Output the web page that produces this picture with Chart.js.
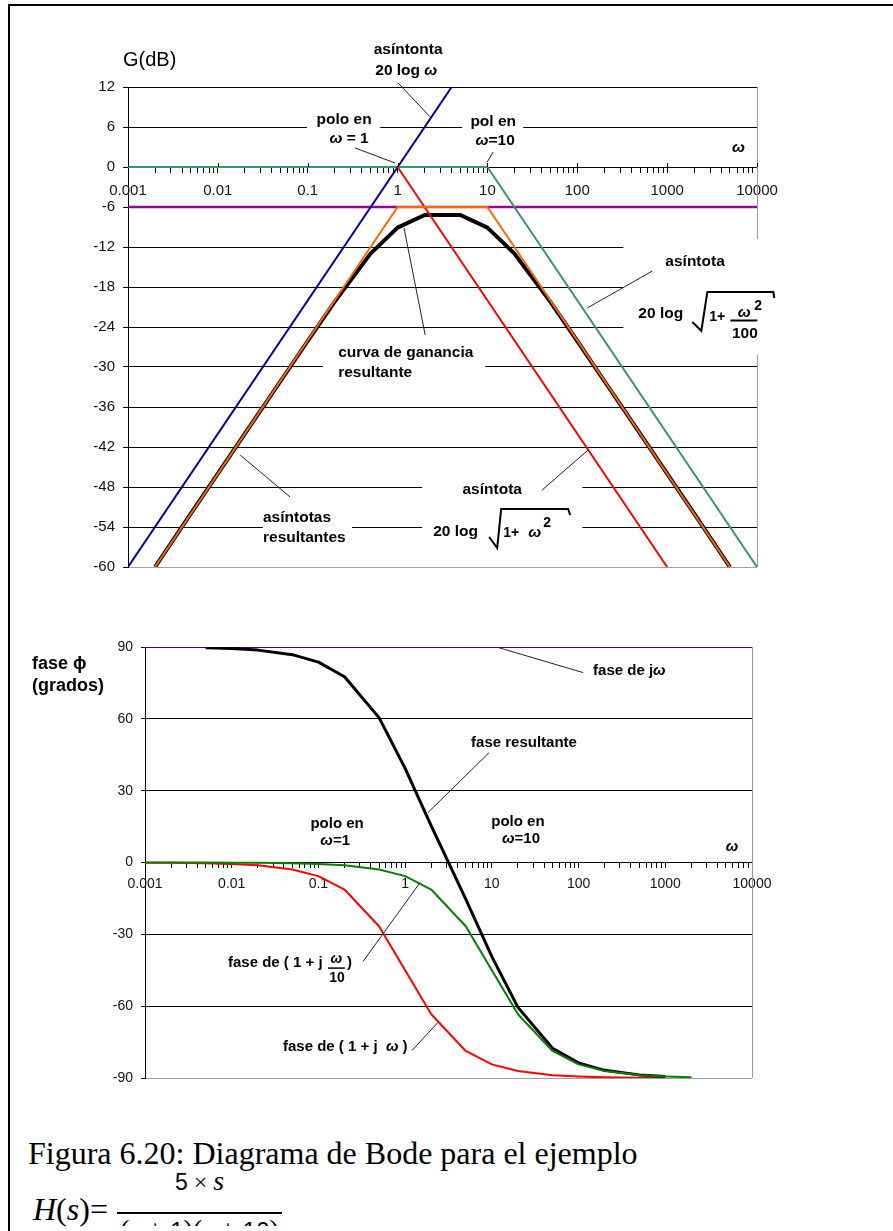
<!DOCTYPE html>
<html><head><meta charset="utf-8">
<script src="https://cdn.jsdelivr.net/npm/chart.js@4.4.1/dist/chart.umd.min.js"></script>
<style>
html,body{margin:0;padding:0;background:#fff;}
body{width:893px;height:1231px;position:relative;overflow:hidden;}
canvas{position:absolute;left:0;}
.abs{position:absolute;white-space:nowrap;color:#000;}
.sans{font-family:'Liberation Sans',Arial,sans-serif;}
</style></head><body>
<div class="abs" style="left:8px;top:4px;width:885px;height:2px;background:#000"></div>
<div class="abs" style="left:8px;top:4px;width:2px;height:1227px;background:#000"></div>
<canvas id="gain" width="893" height="600" style="top:0"></canvas>
<canvas id="phase" width="893" height="520" style="top:600px"></canvas>
<div class="abs" style="left:123px;top:49px;font:20px/20px 'Liberation Sans',Arial,sans-serif;">G(dB)</div>
<div class="abs" style="left:32px;top:652px;font:bold 18px/22px 'Liberation Sans',Arial,'DejaVu Sans',sans-serif;">fase ϕ<br>(grados)</div>
<div class="abs" style="left:28px;top:1137px;font:32px/32px 'Liberation Serif','Times New Roman',serif;">Figura 6.20: Diagrama de Bode para el ejemplo</div>
<div class="abs" style="left:33px;top:1193px;font:32px/32px 'Liberation Serif','Times New Roman',serif;"><i>H</i>(<i>s</i>)=</div>
<div class="abs" style="left:117px;width:165px;top:1167px;text-align:center;font:28px/28px 'Liberation Serif','Times New Roman',serif;"><span class="sans" style="font-size:23px">5</span><span style="font-size:24px"> × </span><i>s</i></div>
<div class="abs" style="left:117px;top:1212px;width:165px;height:2px;background:#000"></div>
<div class="abs" style="left:117px;top:1216px;width:165px;height:10px;overflow:hidden;">
<div style="position:absolute;left:0;top:0;width:165px;text-align:center;font:28px/28px 'Liberation Serif','Times New Roman',serif;">(<i>s</i> + <span class="sans" style="font-size:24px">1</span>)(<i>s</i> + <span class="sans" style="font-size:24px">10</span>)</div>
</div>
<script>
// ---------- DATA ----------
const xMajor = [0.001, 0.01, 0.1, 1, 10, 100, 1000, 10000];
const xMajorLabels = ['0.001', '0.01', '0.1', '1', '10', '100', '1000', '10000'];

// Gain plot (dB)
const gainOmega  = [0.002, 0.005, 0.01, 0.02, 0.05, 0.1, 0.2, 0.5, 1, 2, 5, 10, 20, 50, 100, 200, 500, 1000, 2000, 5000];
const gainResult = [-60.0, -52.0, -46.0, -40.0, -32.1, -26.1, -20.2, -13.0, -9.1, -7.2, -7.2, -9.1, -13.0, -20.2, -26.1, -32.1, -40.0, -46.0, -52.0, -60.0];
const asymJwOmega = [0.001, 4.0];        const asymJwGain = [-60, 12];
const asymP1Omega = [1, 1000];           const asymP1Gain = [0, -60];
const asymP10Omega = [0.001, 10, 10000]; const asymP10Gain = [0, 0, -60];
const constOmega = [0.001, 10000];       const constGain = [-6, -6];
const resAsymOmega = [0.002, 1, 10, 5000]; const resAsymGain = [-60, -6, -6, -60];

// Phase plot (degrees)
const phaseOmega  = [0.001, 0.002, 0.005, 0.01, 0.02, 0.05, 0.1, 0.2, 0.5, 1, 2, 5, 10, 20, 50, 100, 200, 500, 1000, 2000];
const phaseTotal  = [null, null, 89.7, 89.4, 88.7, 86.8, 83.7, 77.6, 60.5, 39.3, 15.3, -15.3, -39.3, -60.5, -77.6, -83.7, -86.8, -88.7, -89.4, null];
const phasePole1  = [-0.1, -0.1, -0.3, -0.6, -1.1, -2.9, -5.7, -11.3, -26.6, -45.0, -63.4, -78.7, -84.3, -87.1, -88.9, -89.4, -89.7, -89.9, -89.9, null];
const phasePole10 = [0, 0, 0, -0.1, -0.1, -0.3, -0.6, -1.1, -2.9, -5.7, -11.3, -26.6, -45.0, -63.4, -78.7, -84.3, -87.1, -88.9, -89.4, -89.7];
const phaseJwOmega = [0.001, 10000]; const phaseJw = [90, 90];

// ---------- helpers ----------
const FONT = "'Liberation Sans', Arial, 'DejaVu Sans', sans-serif";
const xTickValues = [];
xMajor.forEach((d, i) => { for (let k = 1; k <= 9; k++) { if (i === xMajor.length - 1 && k > 1) break; xTickValues.push(+(k * d).toPrecision(6)); } });

function pts(xs, ys) { return xs.map((x, i) => ({x, y: ys[i]})).filter(p => p.y !== null); }
function ds(data, color, width, order) {
  return {data, borderColor: color, borderWidth: width, order, pointRadius: 0, fill: false, tension: 0, borderJoinStyle: 'round'};
}
function B(t, s) { return {t, f: `bold ${s}px ${FONT}`}; }
function BI(t, s) { return {t, f: `italic bold ${s}px ${FONT}`}; }
function drawSegs(ctx, segs, x, y, align) {
  let w = 0;
  for (const s of segs) { ctx.font = s.f; w += ctx.measureText(s.t).width; }
  let cx = align === 'center' ? x - w / 2 : (align === 'right' ? x - w : x);
  ctx.textBaseline = 'middle'; ctx.textAlign = 'left';
  for (const s of segs) { ctx.font = s.f; ctx.fillText(s.t, cx, y); cx += ctx.measureText(s.t).width; }
}

const annotPlugin = {
  id: 'annot',
  beforeDatasetsDraw(chart, args, o) {
    const {ctx, chartArea: ca} = chart;
    const x = chart.scales.x, y = chart.scales.y;
    ctx.save();
    ctx.strokeStyle = '#9a9a9a'; ctx.lineWidth = 1;
    const rx = Math.round(x.getPixelForValue(10000)) + 0.5;
    ctx.beginPath(); ctx.moveTo(rx, ca.top); ctx.lineTo(rx, ca.bottom); ctx.stroke();
    ctx.fillStyle = '#fff';
    for (const b of (o.boxes || [])) {
      const x0 = x.getPixelForValue(b[0]), x1 = x.getPixelForValue(b[1]);
      const y0 = y.getPixelForValue(b[2]), y1 = y.getPixelForValue(b[3]);
      ctx.fillRect(Math.min(x0, x1), Math.min(y0, y1), Math.abs(x1 - x0), Math.abs(y1 - y0));
    }
    ctx.restore();
  },
  afterDatasetsDraw(chart, args, o) {
    const {ctx} = chart;
    const x = chart.scales.x, y = chart.scales.y;
    ctx.save();
    if (o.majorUp) {
      const ay = Math.round(y.getPixelForValue(0));
      ctx.strokeStyle = '#000'; ctx.lineWidth = 1;
      for (const m of xMajor) {
        const px = Math.round(x.getPixelForValue(m)) + 0.5;
        ctx.beginPath(); ctx.moveTo(px, ay - o.majorUp); ctx.lineTo(px, ay); ctx.stroke();
      }
    }
    ctx.strokeStyle = '#222'; ctx.lineWidth = 1;
    for (const l of (o.leaders || [])) {
      ctx.beginPath();
      ctx.moveTo(x.getPixelForValue(l[0]), y.getPixelForValue(l[1]));
      ctx.lineTo(x.getPixelForValue(l[2]), y.getPixelForValue(l[3]));
      ctx.stroke();
    }
    ctx.fillStyle = '#000';
    for (const t of (o.texts || [])) {
      drawSegs(ctx, t.segs, x.getPixelForValue(t.w), y.getPixelForValue(t.v), t.align);
    }
    for (const f of (o.formulas || [])) {
      const ax = x.getPixelForValue(f.w), ay = y.getPixelForValue(f.v);
      for (const p of f.parts) {
        if (p.path) {
          ctx.strokeStyle = '#000'; ctx.lineWidth = p.lw || 2; ctx.lineJoin = 'miter';
          ctx.beginPath();
          p.path.forEach((q, i) => { if (i === 0) ctx.moveTo(ax + q[0], ay + q[1]); else ctx.lineTo(ax + q[0], ay + q[1]); });
          ctx.stroke();
        } else {
          drawSegs(ctx, p.segs, ax + p.dx, ay + p.dy, p.align || 'left');
        }
      }
    }
    ctx.restore();
  }
};

function xAxis(fontSize, pad, tl) {
  return {
    type: 'logarithmic', min: 0.001, max: 10000, position: {y: 0},
    afterBuildTicks: s => { s.ticks = xTickValues.map(v => ({value: v})); },
    ticks: {
      autoSkip: false, maxRotation: 0, minRotation: 0, padding: pad, color: '#111',
      font: {family: FONT, size: fontSize},
      callback: (v) => { const i = xMajor.findIndex(m => Math.abs(m - v) / m < 1e-6); return i >= 0 ? xMajorLabels[i] : ''; }
    },
    grid: {drawOnChartArea: false, drawTicks: true, tickLength: tl, color: '#000'},
    border: {display: true, color: '#000', width: 1}
  };
}
function yAxis(min, max, step, fontSize, tl) {
  return {
    type: 'linear', min, max, position: 'left',
    afterFit: s => { s.width = 60; },
    ticks: {stepSize: step, padding: 8, color: '#111', font: {family: FONT, size: fontSize}},
    grid: {color: c => (c.tick && c.tick.value === min) ? '#a0a0a0' : '#000', tickColor: '#000', tickLength: tl, lineWidth: 1},
    border: {display: true, color: '#000', width: 1}
  };
}

// ---------- GAIN CHART ----------
const T = 15.5;
new Chart(document.getElementById('gain'), {
  type: 'line',
  data: {datasets: [
    ds(pts(resAsymOmega, resAsymGain), '#ff6600', 2, 1),
    ds(pts(asymP1Omega, asymP1Gain), '#ff0000', 2, 2),
    ds(pts(asymJwOmega, asymJwGain), '#000099', 2, 3),
    ds(pts(asymP10Omega, asymP10Gain), '#339966', 2, 4),
    ds(pts(gainOmega, gainResult), '#000000', 4, 5),
    ds(pts(constOmega, constGain), '#990099', 2.5, 6)
  ]},
  options: {
    responsive: false, animation: false, devicePixelRatio: 1, events: [],
    layout: {padding: {left: 68, top: 87, right: 136, bottom: 33}},
    plugins: {
      legend: {display: false}, tooltip: {enabled: false},
      annot: {
        majorUp: 4,
        boxes: [
          [0.098, 0.64, 8.4, 5.4], [5.24, 25.1, 8.4, 5.4], [0.148, 9.44, -27, -33],
          [325, 10900, -10.8, -28.2], [0.0318, 0.312, -51, -57.5], [1.88, 114, -46.65, -57.9]
        ],
        leaders: [
          [1.015, 12.6, 2.31, 7.5], [0.337, 2.85, 0.94, 0.6], [11.6, 2.25, 9.95, 0.75],
          [1.18, -9.15, 2.03, -25.2], [684, -15.6, 129, -21.15], [40.7, -48.45, 132, -42.45],
          [0.0637, -49.5, 0.0177, -43.2]
        ],
        texts: [
          {w: 1.31, v: 17.55, align: 'center', segs: [B('asíntonta', T)]},
          {w: 1.25, v: 14.4, align: 'center', segs: [B('20 log ', T), BI('ω', T)]},
          {w: 0.254, v: 7.05, align: 'center', segs: [B('polo en', T)]},
          {w: 0.289, v: 4.2, align: 'center', segs: [BI('ω', T), B(' = 1', T)]},
          {w: 11.6, v: 6.75, align: 'center', segs: [B('pol en', T)]},
          {w: 12.2, v: 3.9, align: 'center', segs: [BI('ω', T), B('=10', T)]},
          {w: 6210, v: 2.85, align: 'center', segs: [BI('ω', T)]},
          {w: 0.218, v: -27.9, align: 'left', segs: [B('curva de ganancia', T)]},
          {w: 0.218, v: -30.9, align: 'left', segs: [B('resultante', T)]},
          {w: 955, v: -14.25, align: 'left', segs: [B('asíntota', T)]},
          {w: 11.3, v: -48.45, align: 'center', segs: [B('asíntota', T)]},
          {w: 0.0318, v: -52.65, align: 'left', segs: [B('asíntotas', T)]},
          {w: 0.0318, v: -55.65, align: 'left', segs: [B('resultantes', T)]}
        ],
        formulas: [
          {w: 478, v: -22.05, parts: [
            {dx: 0, dy: 0, segs: [B('20 log', T)]},
            {path: [[54, 8], [63, 17], [69, -22], [135, -22], [136, -16]], lw: 2},
            {dx: 71, dy: 3, segs: [B('1+', 14)]},
            {dx: 106, dy: -1, align: 'center', segs: [BI('ω', T)]},
            {dx: 116, dy: -8, segs: [B('2', 14)]},
            {path: [[92, 6.5], [119, 6.5]], lw: 2},
            {dx: 106.5, dy: 20, align: 'center', segs: [B('100', T)]}
          ]},
          {w: 2.49, v: -54.75, parts: [
            {dx: 0, dy: 0, segs: [B('20 log', T)]},
            {path: [[56, 5], [64, 16], [68, -23], [135, -23], [137, -17]], lw: 2},
            {dx: 70, dy: 1, segs: [B('1+', 14)]},
            {dx: 95, dy: 1, segs: [BI('ω', T)]},
            {dx: 110, dy: -9, segs: [B('2', 14)]}
          ]}
        ]
      }
    },
    scales: {x: xAxis(15, 10, 5), y: yAxis(-60, 12, 6, 15, 5)}
  },
  plugins: [annotPlugin]
});

// ---------- PHASE CHART ----------
const P = 15;
new Chart(document.getElementById('phase'), {
  type: 'line',
  data: {datasets: [
    ds(pts(phaseOmega, phasePole10), '#008000', 2, 1),
    ds(pts(phaseOmega, phaseTotal), '#000000', 3, 2),
    ds(pts(phaseOmega, phasePole1), '#ff0000', 2, 3),
    ds(pts(phaseJwOmega, phaseJw), '#a000a0', 1, 4)
  ]},
  options: {
    responsive: false, animation: false, devicePixelRatio: 1, events: [],
    layout: {padding: {left: 85, top: 47, right: 141, bottom: 42}},
    plugins: {
      legend: {display: false}, tooltip: {enabled: false},
      annot: {
        leaders: [
          [11.8, 89.8, 113, 79.3], [9.29, 45.9, 1.84, 20.9],
          [0.327, -41.3, 1.49, -8.35], [1.20, -78.5, 2.39, -66.8]
        ],
        texts: [
          {w: 147, v: 80.2, align: 'left', segs: [B('fase de j', P), BI('ω', P)]},
          {w: 5.76, v: 50.1, align: 'left', segs: [B('fase resultante', P)]},
          {w: 0.164, v: 16.3, align: 'center', segs: [B('polo en', P)]},
          {w: 0.156, v: 9.2, align: 'center', segs: [BI('ω', P), B('=1', P)]},
          {w: 20.0, v: 17.1, align: 'center', segs: [B('polo en', P)]},
          {w: 21.7, v: 10.0, align: 'center', segs: [BI('ω', P), B('=10', P)]},
          {w: 5890, v: 6.7, align: 'center', segs: [BI('ω', P)]},
          {w: 0.039, v: -76.9, align: 'left', segs: [B('fase de ( 1 + j  ', P), BI('ω', P), B(' )', P)]}
        ],
        formulas: [
          {w: 0.00905, v: -41.8, parts: [
            {dx: 0, dy: 0, segs: [B('fase de ( 1 + j', P)]},
            {dx: 108.5, dy: -3, align: 'center', segs: [BI('ω', 14)]},
            {path: [[100, 5.5], [117, 5.5]], lw: 1.5},
            {dx: 109, dy: 16, align: 'center', segs: [B('10', 14)]},
            {dx: 119, dy: 0, segs: [B(')', P)]}
          ]}
        ]
      }
    },
    scales: {x: xAxis(14, 8, 5), y: yAxis(-90, 90, 30, 14, 4)}
  },
  plugins: [annotPlugin]
});
</script>
</body></html>
